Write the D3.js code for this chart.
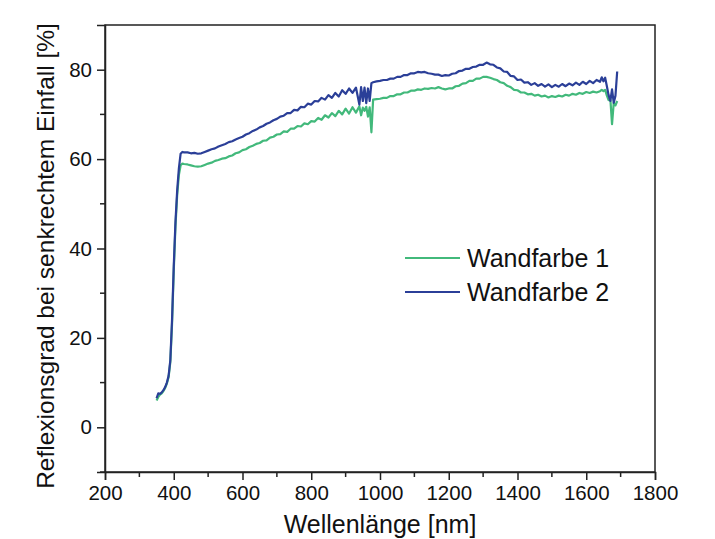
<!DOCTYPE html>
<html>
<head>
<meta charset="utf-8">
<script src="https://cdn.jsdelivr.net/npm/d3@7"></script>
<style>
  html, body { margin: 0; padding: 0; background: #fff; }
  svg { display: block; }
  text { font-family: "Liberation Sans", Arial, sans-serif; fill: #111; }
</style>
</head>
<body>
<svg id="chart" width="715" height="539"></svg>
<script>
// ---- data ----
const wavelengths = [
  350,355,360,365,370,375,380,385,390,395,400,405,410,415,420,425,430,
  440,450,460,470,480,490,500,510,520,530,540,550,560,570,580,590,600,
  610,620,630,640,650,660,670,680,690,700,710,720,730,740,750,760,770,780,790,800,
  810,820,830,840,850,860,870,880,890,900,910,920,930,940,945,950,955,960,965,970,
  975,980,990,1000,1010,1020,1030,1040,1050,1060,1070,1080,1090,1100,
  1110,1120,1130,1140,1150,1160,1170,1180,1190,1200,1210,1220,1230,1240,1250,
  1260,1270,1280,1290,1300,1310,1320,1330,1340,1350,1360,1370,1380,1390,1400,
  1410,1420,1430,1440,1450,1460,1470,1480,1490,1500,1510,1520,1530,1540,1550,
  1560,1570,1580,1590,1600,1610,1620,1630,1640,1645,1650,1655,1660,1665,1670,1675,1680,1685,1690
];
const wandfarbe1 = [
  6.0,6.8,7.3,7.6,8.1,8.8,9.8,11.2,14.5,23,35,45,52,56.5,58.6,59.0,58.9,
  58.8,58.6,58.4,58.3,58.4,58.7,59.0,59.2,59.6,59.8,60.1,60.2,60.6,60.8,61.3,61.5,62.0,
  62.2,62.7,63.0,63.4,63.6,64.1,64.2,64.8,65.0,65.5,65.6,66.2,66.1,66.8,66.8,67.4,67.3,68.0,67.8,68.5,
  68.4,69.2,68.8,69.8,69.3,70.3,69.6,70.8,70.0,71.3,70.2,71.6,70.4,71.8,69.8,71.5,70.8,71.7,69.5,71.6,
  66.0,73.3,73.4,73.5,73.7,73.7,74.1,74.1,74.5,74.5,74.9,74.9,75.3,75.3,
  75.6,75.5,75.8,75.7,75.9,75.8,76.1,75.8,75.6,75.8,75.8,76.3,76.4,76.9,77.0,
  77.5,77.5,78.0,78.0,78.4,78.4,78.2,77.9,77.7,77.2,77.0,76.4,76.1,75.5,75.4,
  74.9,74.9,74.5,74.6,74.2,74.4,74.0,74.2,73.8,74.1,73.9,74.2,74.0,74.4,74.2,
  74.6,74.4,74.8,74.6,75.0,74.8,75.1,74.9,75.2,75.5,75.2,75.5,74.2,73.2,73.6,67.8,72.6,72.0,73.0
];
const wandfarbe2 = [
  6.5,7.6,7.5,7.8,8.3,9.0,10.0,11.5,15,24,36,46,53,58,61.2,61.6,61.5,
  61.5,61.3,61.4,61.2,61.3,61.6,61.9,62.2,62.4,62.8,63.1,63.4,63.8,64.0,64.4,64.7,65.0,
  65.5,65.8,66.3,66.6,67.1,67.4,67.9,68.2,68.7,69.0,69.5,69.7,70.3,70.3,71.0,70.9,71.7,71.6,72.4,72.2,
  73.0,72.9,73.7,73.3,74.3,73.7,74.8,74.0,75.4,74.6,75.8,74.8,76.0,72.2,76.1,73.0,76.0,72.5,75.8,73.0,
  77.0,77.2,77.4,77.5,77.7,77.7,78.0,78.0,78.4,78.4,78.8,78.8,79.2,79.2,
  79.5,79.4,79.5,79.2,79.1,78.9,78.9,78.6,78.8,78.7,79.1,79.2,79.7,79.8,80.2,
  80.2,80.6,80.7,81.1,81.1,81.6,81.2,81.1,80.5,80.3,79.6,79.5,78.6,78.5,77.7,
  77.8,77.1,77.2,76.6,77.0,76.4,76.8,76.2,76.7,76.1,76.6,76.2,76.8,76.3,76.9,
  76.5,77.1,76.6,77.3,76.8,77.5,77.0,77.7,77.3,78.3,77.4,78.2,76.3,74.3,73.0,75.6,72.6,74.2,79.6
];
const seriesNames = ["Wandfarbe 1", "Wandfarbe 2"];
const seriesColors = ["#42b97b", "#2b3f98"];
const xTicks = [200,400,600,800,1000,1200,1400,1600,1800];
const yTicks = [0,20,40,60,80];

// ---- layout ----
const svg = d3.select("#chart");
const L = 105, R = 655, T = 25, B = 472;
const x = d3.scaleLinear().domain([200, 1800]).range([L, R]);
const y = d3.scaleLinear().domain([-10, 90]).range([B, T]);

// frame (top/right)
svg.append("rect").attr("x", L).attr("y", T).attr("width", R - L).attr("height", B - T)
  .attr("fill", "none").attr("stroke", "#222").attr("stroke-width", 1.5);

// x axis
const xMinor = d3.range(300, 1800, 200);
const gx = svg.append("g").attr("transform", `translate(0,${B})`);
gx.call(d3.axisBottom(x).tickValues(xTicks).tickSize(8).tickPadding(5).tickFormat(d3.format("d")));
gx.append("g").selectAll("line").data(xMinor).join("line")
  .attr("x1", d => x(d)).attr("x2", d => x(d)).attr("y1", 0).attr("y2", 5)
  .attr("stroke", "#222").attr("stroke-width", 1.5);

// y axis
const yMinor = [-10, 10, 30, 50, 70];
const gy = svg.append("g").attr("transform", `translate(${L},0)`);
gy.call(d3.axisLeft(y).tickValues(yTicks).tickSize(8).tickPadding(5).tickFormat(d3.format("d")));
gy.append("g").selectAll("line").data(yMinor).join("line")
  .attr("y1", d => y(d)).attr("y2", d => y(d)).attr("x1", 0).attr("x2", -5)
  .attr("stroke", "#222").attr("stroke-width", 1.5);

[gx, gy].forEach(g => {
  g.select(".domain").attr("stroke", "#222").attr("stroke-width", 1.5);
  g.selectAll(".tick line").attr("stroke", "#222").attr("stroke-width", 1.5);
  g.selectAll(".tick text").attr("font-size", 20.5).attr("fill", "#111")
   .style("font-family", '"Liberation Sans", Arial, sans-serif');
});

// lines
const series = [wandfarbe1, wandfarbe2];
const line = d3.line().x((d, i) => x(wavelengths[i])).y(d => y(d));
series.forEach((vals, k) => {
  svg.append("path").datum(vals)
    .attr("d", line)
    .attr("fill", "none")
    .attr("stroke", seriesColors[k])
    .attr("stroke-width", 2.2)
    .attr("stroke-linejoin", "round");
});

// axis titles
svg.append("text").attr("x", 380).attr("y", 533)
  .attr("text-anchor", "middle").attr("font-size", 25).text("Wellenlänge [nm]");
svg.append("text")
  .attr("transform", `translate(54,256) rotate(-90)`)
  .attr("text-anchor", "middle").attr("font-size", 24.5)
  .text("Reflexionsgrad bei senkrechtem Einfall [%]");

// legend
const lg = svg.append("g");
seriesNames.forEach((name, k) => {
  const yy = 258 + k * 34;
  lg.append("line").attr("x1", 405).attr("x2", 460).attr("y1", yy).attr("y2", yy)
    .attr("stroke", seriesColors[k]).attr("stroke-width", 2.2);
  lg.append("text").attr("x", 467).attr("y", yy + 9).attr("font-size", 25).text(name);
});
</script>
</body>
</html>
